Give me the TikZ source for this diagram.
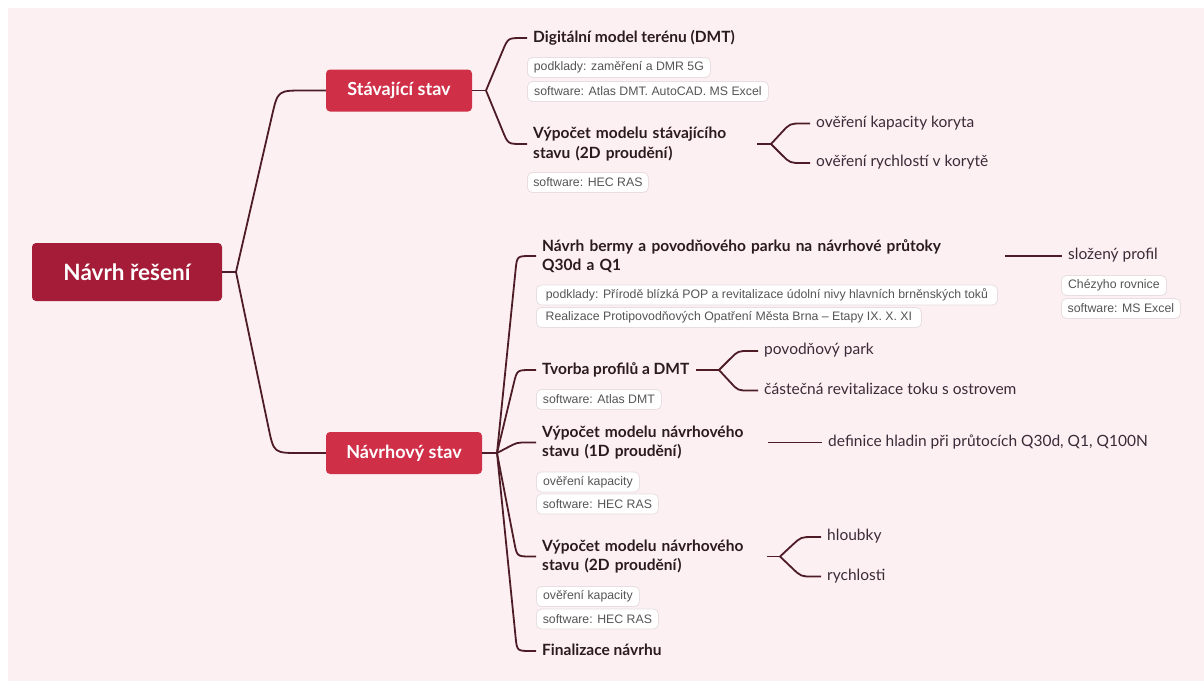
\documentclass[tikz,border=0pt]{standalone}
\usepackage{fontspec}
\setmainfont{Lato}
\newfontfamily\lblfont{Liberation Sans}
\usetikzlibrary{calc}
\definecolor{bgpink}{HTML}{FCF0F2}
\definecolor{linec}{HTML}{4E1C26}
\definecolor{rootfill}{HTML}{A41C38}
\definecolor{topicfill}{HTML}{D02F48}
\definecolor{subtext}{HTML}{2B1A20}
\definecolor{leaftext}{HTML}{3C2A38}
\definecolor{lbltext}{HTML}{555555}
\definecolor{lblborder}{HTML}{E8DEE1}
\newcommand\mmlink[4]{\draw[conn] (#1) -- ($([xshift=-#3pt]#2)!#4pt!(#1)$) .. controls ([xshift=-#3pt]#2) .. ([xshift=#4pt-#3pt]#2) -- (#2);}
\begin{document}
\begin{tikzpicture}[x=1pt,y=-1pt,
  conn/.style={draw=linec,line width=1.8pt,line join=round},
  rootbox/.style={fill=rootfill,rounded corners=4pt,text=white,font=\fontsize{22.5}{26}\selectfont\bfseries,minimum width=190pt,minimum height=58pt},
  topicbox/.style={fill=topicfill,rounded corners=4pt,text=white,font=\fontsize{18}{21}\selectfont\bfseries,minimum height=42pt},
  subtwo/.style={anchor=west,inner xsep=6pt,inner ysep=0pt,align=left,text=subtext,font=\fontsize{15.5}{19.5}\selectfont\bfseries},
  sub/.style={subtwo,text height=12pt,text depth=4pt},
  leaf/.style={anchor=west,inner xsep=6pt,inner ysep=0pt,text=leaftext,text height=11pt,text depth=3.5pt,font=\fontsize{15.5}{18}\selectfont},
  lbl/.style={anchor=west,draw=lblborder,fill=white,line width=0.8pt,rounded corners=5pt,inner xsep=0pt,inner ysep=0pt,minimum height=20pt,text=lbltext,font=\lblfont\fontsize{12.3}{14}\selectfont}
]
\useasboundingbox (0,0) rectangle (1204,681);
\fill[white] (0,0) rectangle (1204,681);
\fill[bgpink] (8,8) rectangle (1204,681);

% main nodes
\node[rootbox] (root) at (127,272) {Návrh řešení};
\node[topicbox,minimum width=146pt] (stav) at (399,90.5) {Stávající stav};
\node[topicbox,minimum width=156pt] (navr) at (404,453) {Návrhový stav};

\coordinate (rb) at (236,272);
\coordinate (sb) at (486,90.5);
\coordinate (nb) at (497,453);

\draw[conn] (root.east) -- (rb);
\mmlink{rb}{stav.west}{48}{26}
\mmlink{rb}{navr.west}{52}{26}
\draw[conn] (stav.east) -- (sb);
\draw[conn] (navr.east) -- (nb);

% existing state
\node[sub] (d1) at (527,38) {Digitální model terénu (DMT)};
\node[subtwo,text width=218pt] (d2) at (527,144) {Výpočet modelu stávajícího\\stavu (2D proudění)};
\mmlink{sb}{d1.west}{19}{14}
\mmlink{sb}{d2.west}{19}{14}

\node[lbl,minimum width=183pt] (a1) at (527,67.5) {podklady: zaměření a DMR 5G};
\node[lbl,minimum width=241pt] (a2) at (527,91.5) {software: Atlas DMT. AutoCAD. MS Excel};
\node[lbl,minimum width=121pt] (a3) at (527,182.5) {software: HEC RAS};

\node[leaf] (l1) at (810,123.5) {ověření kapacity koryta};
\node[leaf] (l2) at (810,163) {ověření rychlostí v korytě};
\coordinate (d2b) at (771,144);
\draw[conn] (d2.east) -- (d2b);
\mmlink{d2b}{l1.west}{20}{12}
\mmlink{d2b}{l2.west}{20}{12}

% design state
\node[subtwo,text width=457pt] (n1) at (536,256) {Návrh bermy a povodňového parku na návrhové průtoky\\Q30d a Q1};
\node[sub] (n2) at (536,370) {Tvorba profilů a DMT};
\node[subtwo,text width=220pt] (n3) at (536,442.5) {Výpočet modelu návrhového\\stavu (1D proudění)};
\node[subtwo,text width=219pt] (n4) at (536,556.5) {Výpočet modelu návrhového\\stavu (2D proudění)};
\node[sub] (n5) at (536,651) {Finalizace návrhu};
\mmlink{nb}{n1.west}{19}{14}
\mmlink{nb}{n2.west}{19}{14}
\mmlink{nb}{n3.west}{19}{10}
\mmlink{nb}{n4.west}{19}{14}
\mmlink{nb}{n5.west}{19}{14}

\node[lbl,minimum width=461pt] (b1) at (536,295) {podklady: Přírodě blízká POP a revitalizace údolní nivy hlavních brněnských toků};
\node[lbl,minimum width=385pt] (b2) at (536,317.5) {Realizace Protipovodňových Opatření Města Brna – Etapy IX. X. XI};
\node[lbl,minimum width=105pt] (b3) at (1061,285.5) {Chézyho rovnice};
\node[lbl,minimum width=119pt] (b4) at (1061,308.5) {software: MS Excel};
\node[lbl,minimum width=125pt] (b5) at (536,399.5) {software: Atlas DMT};
\node[lbl,minimum width=103pt] (b6) at (536,482) {ověření kapacity};
\node[lbl,minimum width=122pt] (b7) at (536,504) {software: HEC RAS};
\node[lbl,minimum width=103pt] (b8) at (536,596.5) {ověření kapacity};
\node[lbl,minimum width=122pt] (b9) at (536,619) {software: HEC RAS};

\node[leaf] (l5) at (1062,256) {složený profil};
\draw[conn] (n1.east) -- (l5.west);

\node[leaf] (l3) at (758,351) {povodňový park};
\node[leaf] (l4) at (758,390.5) {částečná revitalizace toku s ostrovem};
\coordinate (n2b) at (719,370);
\draw[conn] (n2.east) -- (n2b);
\mmlink{n2b}{l3.west}{20}{11}
\mmlink{n2b}{l4.west}{20}{11}

\node[leaf] (l6) at (822,442.5) {definice hladin při průtocích Q30d, Q1, Q100N};
\draw[conn] (n3.east) -- (l6.west);

\node[leaf] (l7) at (821,537) {hloubky};
\node[leaf] (l8) at (821,576.5) {rychlosti};
\coordinate (n4b) at (780,556.5);
\draw[conn] (n4.east) -- (n4b);
\mmlink{n4b}{l7.west}{20}{12}
\mmlink{n4b}{l8.west}{20}{12}
\end{tikzpicture}
\end{document}
